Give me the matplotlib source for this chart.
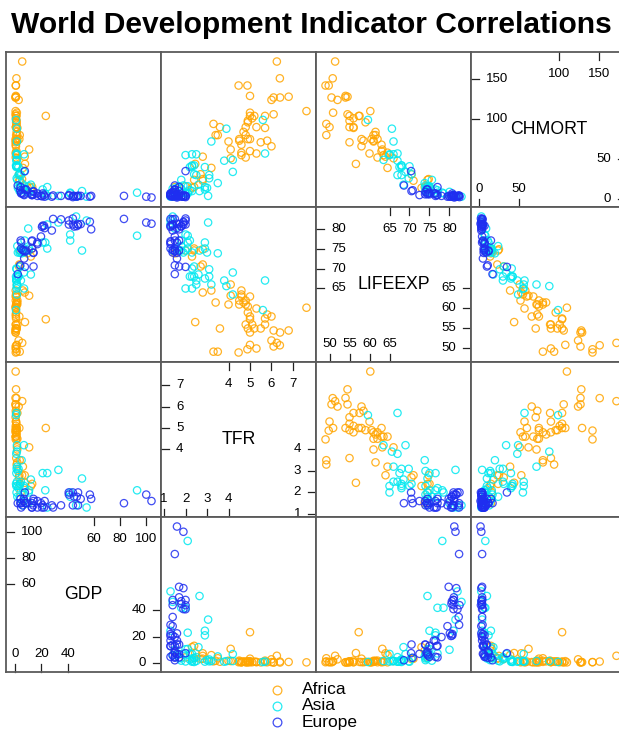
import matplotlib
matplotlib.use("Agg")
import matplotlib.pyplot as plt
import matplotlib.transforms as mtransforms
from matplotlib.lines import Line2D

plt.rcParams["font.family"] = ["Liberation Sans", "DejaVu Sans"]

title = "World Development Indicator Correlations"
variables = ["GDP", "TFR", "LIFEEXP", "CHMORT"]
regions = ["Africa", "Asia", "Europe"]
region_colors = ["#FFA500", "#00E8F0", "#1F2EF0"]

# --- Africa ---
gdp_africa = [5.3, 5.4, 0.8, 7.3, 0.7, 0.3, 1.2, 3.6, 0.5, 1.0, 0.8, 0.4, 3.2, 1.3,
              1.6, 3.2, 23.4, 0.5, 0.45, 10.7, 0.5, 1.6, 0.5, 0.5, 1.1, 1.2, 0.4,
              13.0, 0.45, 0.4, 0.7, 1.2, 9.3, 3.0, 0.6, 5.9, 0.4, 2.7, 0.7, 1.0,
              0.6, 0.3, 7.5, 1.7, 3.5, 0.7, 0.6, 4.2, 0.6, 1.7, 0.9, 1.0, 12.0, 1.4]
tfr_africa = [2.8, 6.25, 4.9, 2.8, 5.7, 6.1, 4.9, 2.4, 4.47, 6.39, 4.8, 6.1, 5.0, 5.0,
              3.4, 2.8, 5.0, 4.8, 4.6, 4.1, 5.8, 4.0, 5.1, 5.0, 4.5, 3.3, 4.9,
              2.4, 4.6, 5.5, 6.8, 4.7, 1.5, 2.7, 5.3, 3.2, 7.63, 6.0, 4.6, 5.0,
              4.88, 6.4, 2.45, 4.5, 3.5, 5.3, 4.8, 2.0, 6.0, 5.7, 3.6, 5.2, 2.3, 4.1]
lifeexp_africa = [74.8, 51.4, 59.0, 64.0, 57.5, 54.5, 55.0, 74.5, 49.0, 50.8, 61.0, 50.5, 58.0, 50.9,
                  61.5, 71.0, 57.3, 62.0, 63.0, 63.2, 58.5, 61.0, 56.0, 54.0, 61.0, 49.2, 60.5,
                  75.0, 64.5, 55.0, 54.5, 61.5, 73.8, 70.5, 50.0, 64.5, 60.2, 52.0, 63.5, 63.0,
                  49.8, 54.0, 56.6, 62.0, 49.2, 60.0, 56.0, 74.5, 58.0, 56.0, 55.0, 55.0, 73.0, 66.0]
chmort_africa = [25, 172, 96, 53, 104, 106, 98, 24, 142, 151, 80, 127, 75, 108,
                 80, 23, 104, 52, 68, 62, 73, 72, 101, 129, 73, 94, 75,
                 15, 58, 71, 128, 84, 15, 31, 90, 39, 110, 124, 55, 60,
                 142, 127, 44, 75, 80, 57, 90, 16, 66, 89, 90, 104, 14, 51]

# --- Asia ---
gdp_asia = [0.7, 3.7, 23.0, 0.9, 2.5, 42.0, 0.95, 6.3, 3.5, 1.45, 3.7, 7.0, 6.7, 33.0,
            46.5, 4.9, 12.0, 51.0, 1.2, 1.4, 10.0, 10.4, 7.2, 4.4, 1.1, 0.7, 21.0,
            1.3, 2.6, 93.0, 24.5, 54.5, 24.5, 3.4, 2.1, 0.9, 5.9, 1.0, 6.8, 42.0,
            1.7, 1.7, 1.4, 10.6]
tfr_asia = [5.6, 1.7, 2.1, 2.3, 2.2, 2.0, 2.9, 1.6, 1.8, 2.5, 2.4, 1.9, 4.2, 3.05,
            1.4, 3.5, 2.6, 2.65, 3.1, 3.2, 1.5, 2.0, 2.2, 2.5, 2.0, 2.4, 2.9,
            3.9, 3.1, 2.1, 2.9, 1.3, 1.3, 2.3, 3.0, 3.8, 1.4, 5.7, 2.3, 1.8,
            2.3, 1.8, 4.2, 2.1]
lifeexp_asia = [59.6, 74.5, 76.5, 70.0, 68.0, 78.5, 67.5, 75.0, 74.5, 66.0, 70.5, 74.0, 69.0, 81.5,
                83.0, 73.8, 68.5, 74.5, 69.8, 66.0, 80.0, 74.5, 77.0, 67.0, 65.0, 68.0, 76.5,
                65.6, 68.0, 78.2, 75.0, 82.0, 81.0, 74.0, 74.0, 67.0, 74.5, 67.0, 65.0, 77.0,
                68.0, 75.6, 63.5, 75.0]
chmort_asia = [99, 16, 7, 41, 40, 7, 40, 14, 13, 56, 31, 17, 34, 4,
               3, 20, 18, 10, 26, 72, 9, 8, 11, 30, 55, 42, 12,
               88, 30, 8, 15, 3, 4, 10, 14, 48, 13, 57, 56, 8,
               42, 24, 49, 16]

# --- Europe ---
gdp_europe = [4.2, 48.0, 7.4, 6.9, 45.0, 4.6, 7.4, 13.0, 28.0, 19.7, 58.0, 17.0, 47.0, 40.9,
              44.0, 22.0, 12.9, 44.0, 48.0, 35.0, 13.8, 14.0, 104.0, 4.6, 21.0, 2.0, 6.6,
              50.0, 100.0, 12.7, 20.5, 8.4, 14.0, 5.7, 17.0, 22.5, 29.0, 57.0, 83.0, 3.9, 41.0]
tfr_europe = [1.7, 1.4, 2.0, 1.6, 1.8, 1.3, 1.5, 1.5, 1.4, 1.5, 1.7, 1.6, 1.8, 2.0,
              1.4, 1.3, 1.3, 2.0, 2.0, 1.4, 1.4, 1.6, 1.6, 1.5, 1.4, 1.5, 1.7,
              1.7, 1.9, 1.3, 1.3, 1.5, 1.7, 1.4, 1.3, 1.6, 1.3, 1.9, 1.5, 1.5, 1.9]
lifeexp_europe = [77.0, 81.0, 70.4, 72.5, 80.5, 76.5, 74.3, 77.0, 79.5, 78.0, 79.8, 76.5, 80.6, 82.0,
                  81.0, 80.7, 75.0, 82.5, 81.0, 82.3, 74.0, 73.9, 81.2, 75.0, 80.7, 68.6, 74.5,
                  81.1, 81.5, 76.8, 80.4, 74.5, 70.5, 74.6, 76.1, 80.1, 82.4, 81.7, 82.4, 70.8, 81.0]
chmort_europe = [15, 4, 35, 5, 4, 7, 12, 5, 3, 4, 4, 4, 3, 4,
                 4, 5, 6, 2.5, 4, 4, 9, 6, 2, 8, 7, 17, 6,
                 4, 3, 5, 3.6, 12, 10, 7, 7, 3, 4.5, 3, 4, 11, 5]

# tick values shown in the diagonal panels (upper half: left/top, lower half: bottom/right)
ticks_upper = {"GDP": [60, 80, 100], "TFR": [4, 5, 6, 7],
               "LIFEEXP": [65, 70, 75, 80], "CHMORT": [100, 150]}
ticks_lower = {"GDP": [0, 20, 40], "TFR": [1, 2, 3, 4],
               "LIFEEXP": [50, 55, 60, 65], "CHMORT": [0, 50]}

data = {
    "Africa": {"GDP": gdp_africa, "TFR": tfr_africa, "LIFEEXP": lifeexp_africa, "CHMORT": chmort_africa},
    "Asia": {"GDP": gdp_asia, "TFR": tfr_asia, "LIFEEXP": lifeexp_asia, "CHMORT": chmort_asia},
    "Europe": {"GDP": gdp_europe, "TFR": tfr_europe, "LIFEEXP": lifeexp_europe, "CHMORT": chmort_europe},
}

# axis limits like lattice: data range padded by 7% on each side
lims = {}
for v in variables:
    vals = [x for reg in regions for x in data[reg][v]]
    lo, hi = min(vals), max(vals)
    pad = 0.07 * (hi - lo)
    lims[v] = (lo - pad, hi + pad)

W, H = 619, 731
fig = plt.figure(figsize=(W / 100, H / 100), dpi=100)

P = 155          # panel size in px
X0, Y0 = 6, 52   # top-left corner of the grid
TICK, GAP = 8, 7
border = "#5a5a5a"


def diag_panel(ax, var):
    ax.set_xlim(lims[var])
    ax.set_ylim(lims[var])
    tl = TICK / P
    gp = GAP / P
    tx = mtransforms.blended_transform_factory(ax.transData, ax.transAxes)
    ty = mtransforms.blended_transform_factory(ax.transAxes, ax.transData)
    kw = dict(color="#222222", lw=0.9, clip_on=False)
    for t in ticks_upper[var]:
        ax.plot([0, tl], [t, t], transform=ty, **kw)
        ax.text(tl + gp, t, str(t), transform=ty, ha="left", va="center", fontsize=9.5)
        ax.plot([t, t], [1, 1 - tl], transform=tx, **kw)
        ax.text(t, 1 - 16 / P, str(t), transform=tx, ha="center", va="top", fontsize=9.5)
    for t in ticks_lower[var]:
        ax.plot([t, t], [0, tl], transform=tx, **kw)
        ax.text(t, tl + gp, str(t), transform=tx, ha="center", va="baseline", fontsize=9.5)
        ax.plot([1, 1 - tl], [t, t], transform=ty, **kw)
        ax.text(1 - tl - gp, t, str(t), transform=ty, ha="right", va="center", fontsize=9.5)
    ax.text(0.5, 0.5, var, transform=ax.transAxes, ha="center", va="center", fontsize=12.7)


for r in range(4):
    yvar = variables[3 - r]
    for c in range(4):
        xvar = variables[c]
        left = (X0 + c * P) / W
        bottom = 1 - (Y0 + (r + 1) * P) / H
        ax = fig.add_axes([left, bottom, P / W, P / H])
        ax.set_xticks([])
        ax.set_yticks([])
        for s in ax.spines.values():
            s.set_color(border)
            s.set_linewidth(1.3)
        if xvar == yvar:
            diag_panel(ax, xvar)
            continue
        for reg, col in zip(regions, region_colors):
            ax.scatter(data[reg][xvar], data[reg][yvar], s=28, facecolors="none",
                       edgecolors=col, linewidths=0.9, alpha=0.85)
        ax.set_xlim(lims[xvar])
        ax.set_ylim(lims[yvar])

fig.text(11 / W, 1 - 33 / H, title, fontsize=21.6, fontweight="bold",
         ha="left", va="baseline")

# legend below the grid
for i, (reg, col) in enumerate(zip(regions, region_colors)):
    y = 1 - (690 + 16 * i) / H
    fig.add_artist(Line2D([277 / W], [y], marker="o", markersize=6.3, markerfacecolor="none",
                          markeredgecolor=col, markeredgewidth=0.9, alpha=0.85,
                          transform=fig.transFigure))
    fig.text(302 / W, y, reg, fontsize=12.5, ha="left", va="center")

fig.savefig("out.png", dpi=100)
